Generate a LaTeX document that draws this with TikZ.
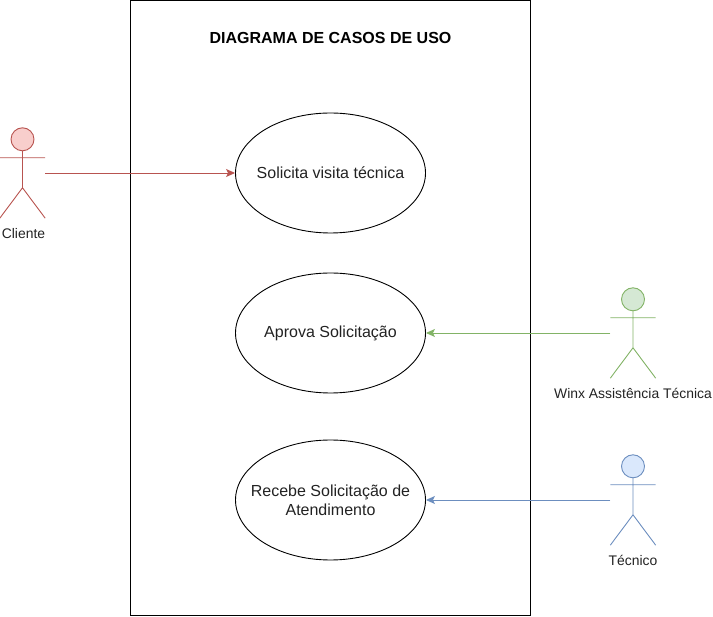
\documentclass[tikz,border=0pt]{standalone}
\usepackage{fontspec}
\setmainfont{Liberation Sans}
\usetikzlibrary{shapes,arrows.meta,positioning,calc}
\definecolor{redline}{HTML}{B85450}
\definecolor{redfill}{HTML}{F8CECC}
\definecolor{greenline}{HTML}{82B366}
\definecolor{greenfill}{HTML}{D5E8D4}
\definecolor{blueline}{HTML}{6C8EBF}
\definecolor{bluefill}{HTML}{DAE8FC}
\definecolor{txt}{HTML}{222222}
\tikzset{
	line/.style={draw, -{Stealth[length=9pt,width=8pt,inset=2pt]}, line width=0.9pt},
	usecase/.style={draw, ellipse, line width=0.9pt, minimum width=190pt, minimum height=120pt,
		inner xsep=-14pt, inner ysep=0pt, align=center, font=\fontsize{16}{19}\selectfont, text=txt},
	box/.style={draw, line width=1pt, minimum width=400pt, minimum height=615pt, inner sep=0pt},
	actor/.style={minimum width=45pt, minimum height=90pt, inner sep=0pt},
	lbl/.style={inner sep=0pt, font=\fontsize{13.9}{16}\selectfont, text=txt}
}
% stick figure drawn inside the named actor node
\newcommand{\stick}[3]{
	\node[draw=#2, fill=#3, circle, line width=0.9pt, minimum size=23pt, inner sep=0pt] (#1_head)
		at ($(#1.north)+(0,-11.5pt)$) {};
	\draw[#2, line width=0.9pt] (#1_head.south) -- ($(#1.north)+(0,-60pt)$)
		($(#1.north west)+(0,-30pt)$) -- ($(#1.north east)+(0,-30pt)$)
		(#1.south west) -- ($(#1.north)+(0,-60pt)$) -- (#1.south east);
}

\begin{document}
\begin{tikzpicture}[x=1pt,y=1pt,on grid,node distance=160pt]
	\useasboundingbox (0,0) rectangle (713,-617);
	\node[box] (frame) at (330.5,-308) {};
	\node[inner sep=0pt, font=\fontsize{16}{18}\selectfont\bfseries, text=black] (title) at (330.5,-38) {DIAGRAMA DE CASOS DE USO};

	\node[usecase] (uc_visita) at (330.5,-173) {Solicita visita técnica};
	\node[usecase] (uc_aprova) [below=of uc_visita] {Aprova Solicitação};
	\node[usecase] (uc_recebe) [below=167pt of uc_aprova] {Recebe Solicitação de\\Atendimento};

	\node[actor] (a_cliente) at (22.5,-173) {};
	\node[actor] (a_winx) at (633,-333) {};
	\node[actor] (a_tecnico) at (633,-500) {};
	\stick{a_cliente}{redline}{redfill}
	\stick{a_winx}{greenline}{greenfill}
	\stick{a_tecnico}{blueline}{bluefill}

	\node[lbl, xshift=1pt] (l_cliente) [below=10pt of a_cliente.south] {Cliente};
	\node[lbl] (l_winx) [below=10pt of a_winx.south] {Winx Assistência Técnica};
	\node[lbl] (l_tecnico) [below=10pt of a_tecnico.south] {Técnico};

	\path[line, redline] (a_cliente) -- (uc_visita);
	\path[line, greenline] (a_winx) -- (uc_aprova);
	\path[line, blueline] (a_tecnico) -- (uc_recebe);
\end{tikzpicture}
\end{document}
